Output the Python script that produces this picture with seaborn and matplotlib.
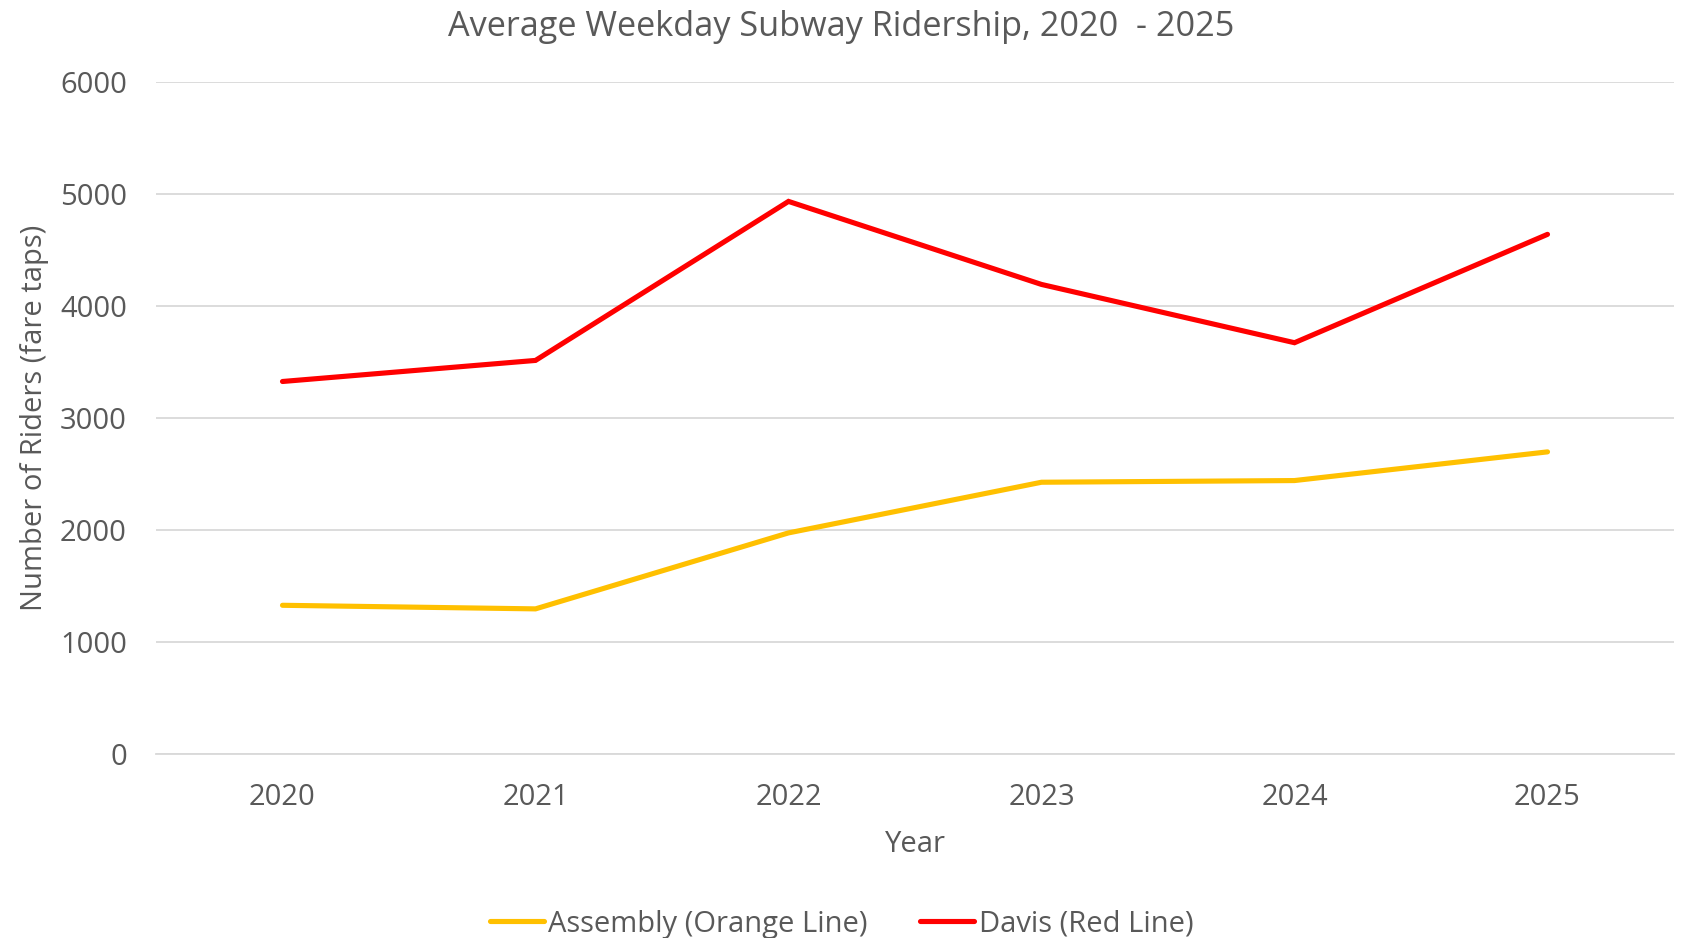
import matplotlib
matplotlib.use("Agg")
import matplotlib.pyplot as plt
import seaborn as sns
import pandas as pd

years = ["2020", "2021", "2022", "2023", "2024", "2025"]
assembly = [1327, 1295, 1973, 2425, 2440, 2696]
davis = [3324, 3512, 4931, 4190, 3670, 4637]
series_names = ["Assembly (Orange Line)", "Davis (Red Line)"]
y_ticks = [0, 1000, 2000, 3000, 4000, 5000, 6000]

df = pd.DataFrame({
    "Year": years * 2,
    "Riders": assembly + davis,
    "Station": [series_names[0]] * len(years) + [series_names[1]] * len(years),
})

sns.set_theme(style="white")
plt.rcParams['font.family'] = ['Open Sans', 'DejaVu Sans']
text_color = "#595959"

fig = plt.figure(figsize=(16.83, 9.38), dpi=100)
ax = fig.add_axes([156 / 1683, 1 - 754 / 938, (1674 - 156) / 1683, (754 - 81.6) / 938])

sns.lineplot(data=df, x="Year", y="Riders", hue="Station", sort=False,
             palette={series_names[0]: "#FFC000", series_names[1]: "#FF0000"},
             linewidth=3.7, ax=ax, legend=True)
for ln in ax.lines:
    ln.set_solid_capstyle("round")
    ln.set_solid_joinstyle("miter")

handles, labels = ax.get_legend_handles_labels()
if ax.get_legend() is not None:
    ax.get_legend().remove()

ax.set_xlim(-0.5, len(years) - 0.5)
ax.set_ylim(0, 6000)
ax.set_yticks(y_ticks)
ax.yaxis.grid(True, color="#D9D9D9", linewidth=1.3)
ax.xaxis.grid(False)
for s in ["top", "right", "left"]:
    ax.spines[s].set_visible(False)
ax.spines["bottom"].set_color("#D9D9D9")
ax.spines["bottom"].set_linewidth(1.3)
ax.tick_params(axis="both", length=0, labelsize=21, colors=text_color)
ax.tick_params(axis="y", pad=21)
ax.tick_params(axis="x", pad=21)

ax.set_xlabel("Year", fontsize=21, color=text_color, labelpad=13)
ax.set_ylabel("Number of Riders (fare taps)", fontsize=21, color=text_color, labelpad=8)
ax.set_title("Average Weekday Subway Ridership, 2020  - 2025", fontsize=24.7,
             color=text_color, pad=32.5, x=(841.5 - 156) / 1518)

fig.legend(handles, labels, loc="center", bbox_to_anchor=(0.5, 1 - 924 / 938),
           ncol=2, frameon=False, fontsize=21, handlelength=1.86,
           handletextpad=0.15, columnspacing=1.8, labelcolor=text_color)

fig.savefig("out.png", dpi=100, facecolor="white")
